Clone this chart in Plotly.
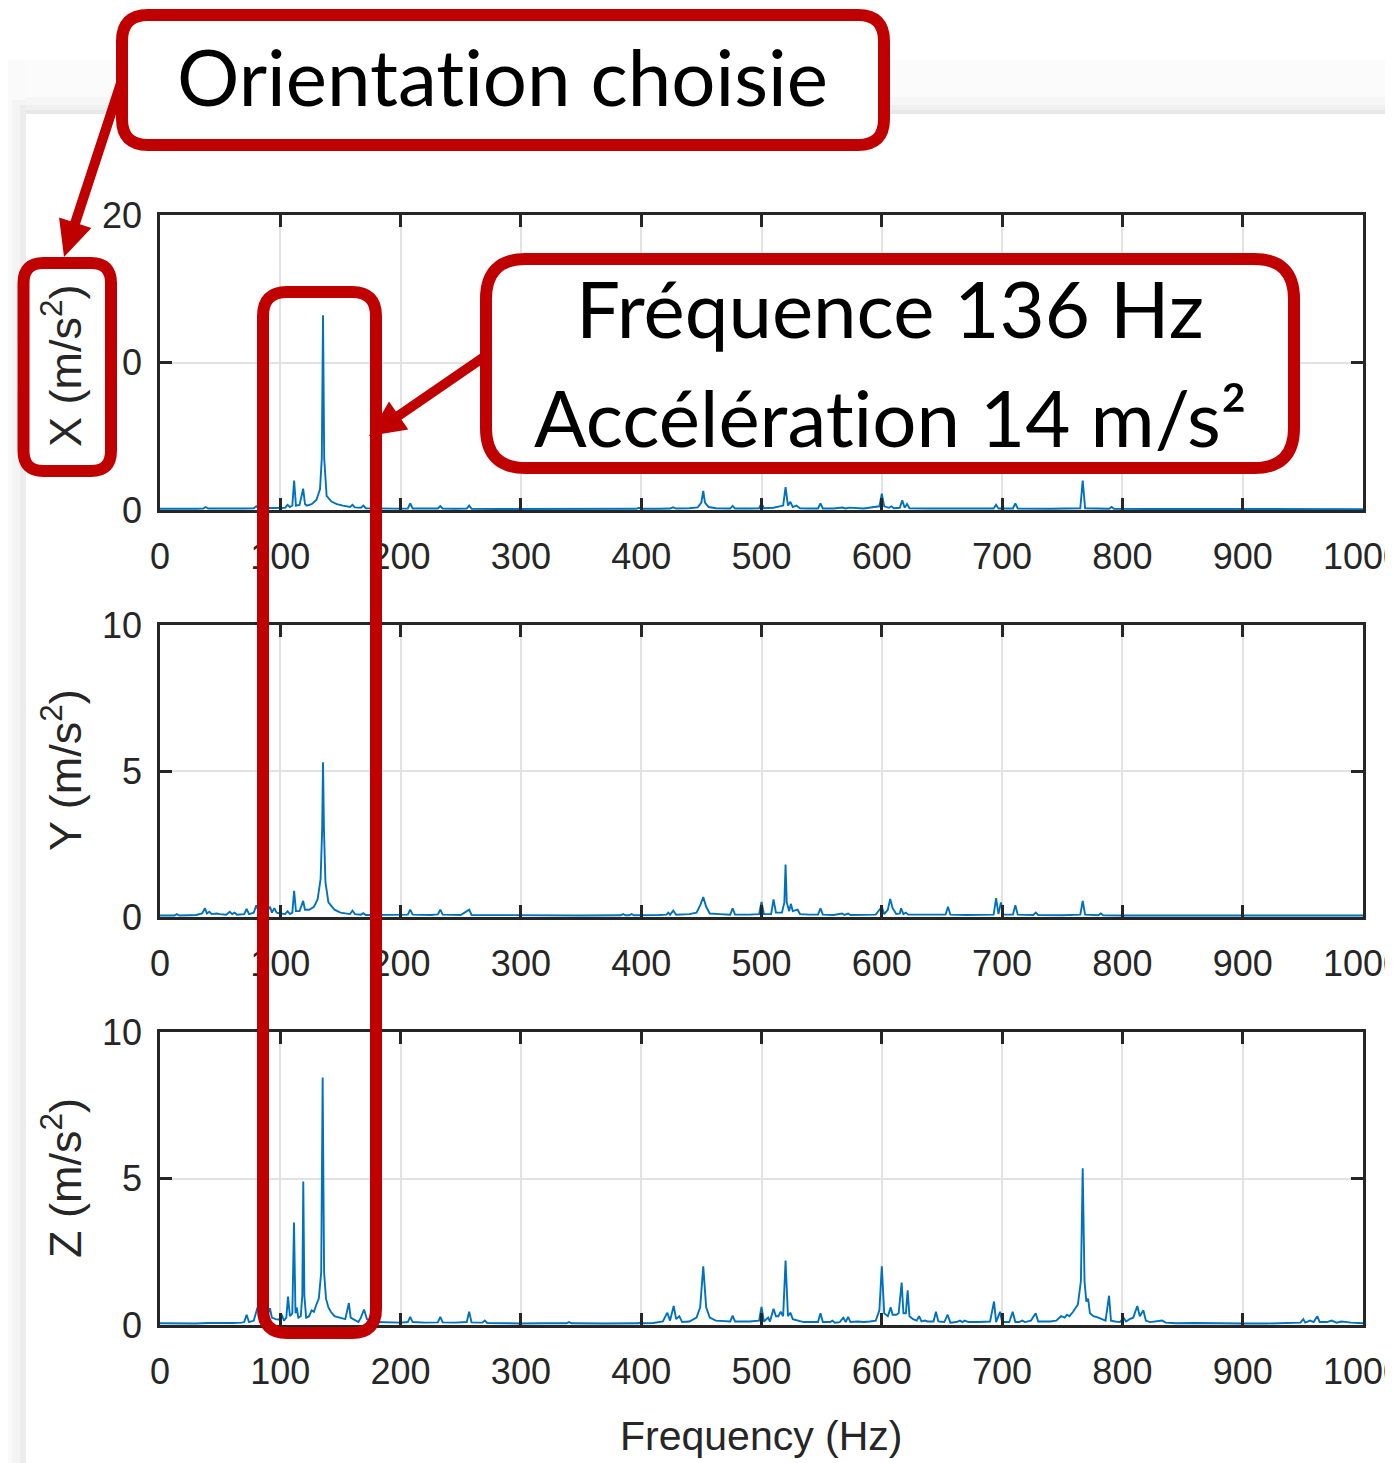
import plotly.graph_objects as go

# ---------------- data ----------------
FREQ_TICKS = [0, 100, 200, 300, 400, 500, 600, 700, 800, 900, 1000]
X_YTICKS = [0, 10, 20]
YZ_YTICKS = [0, 5, 10]

X_FREQ = [0, 10, 20, 30, 36, 38, 40, 50, 60, 70, 78, 80, 82, 90, 98, 104, 106, 108, 110, 111.5, 113, 116, 119,
          120.5, 122, 126, 130, 133, 134.5, 135.5, 136.5, 138.5, 142.5, 147, 152, 158, 160, 162, 167, 169, 171,
          180, 195, 206, 208, 210, 220, 231, 233, 235, 245, 255, 257, 259, 280, 320, 360, 396, 398, 400, 415,
          424, 426.5, 429, 440, 447, 450, 451.6, 453, 456, 462, 474, 476, 478, 490, 498, 500, 502, 510, 518,
          520, 522, 524, 526, 529, 532, 540, 547, 549, 551, 560, 567, 570, 573, 585, 598, 600, 602, 606, 608,
          610, 615, 617, 619, 621, 623, 640, 660, 680, 693, 695, 697, 709, 711, 713, 740, 765, 767, 769, 789,
          791, 793, 820, 900, 1000]
X_AMP = [0.08, 0.07, 0.09, 0.08, 0.1, 0.2, 0.1, 0.09, 0.1, 0.1, 0.12, 0.25, 0.12, 0.12, 0.15, 0.15, 0.35, 0.2,
         0.3, 2.0, 0.3, 0.35, 1.45, 0.4, 0.3, 0.4, 0.68, 1.4, 3.5, 13.2, 3.5, 0.95, 0.57, 0.4, 0.3, 0.2, 0.35,
         0.18, 0.15, 0.3, 0.12, 0.1, 0.09, 0.1, 0.45, 0.1, 0.09, 0.1, 0.27, 0.1, 0.08, 0.09, 0.3, 0.08, 0.07,
         0.06, 0.07, 0.08, 0.15, 0.08, 0.08, 0.1, 0.18, 0.1, 0.12, 0.18, 0.5, 1.3, 0.5, 0.2, 0.12, 0.1, 0.28,
         0.1, 0.1, 0.12, 0.45, 0.12, 0.15, 0.3, 1.55, 0.3, 0.55, 0.2, 0.3, 0.12, 0.1, 0.1, 0.45, 0.1, 0.1, 0.17,
         0.1, 0.16, 0.1, 0.25, 1.1, 0.25, 0.15, 0.25, 0.12, 0.15, 0.65, 0.15, 0.4, 0.12, 0.1, 0.09, 0.08, 0.1,
         0.35, 0.1, 0.1, 0.45, 0.1, 0.08, 0.12, 2.0, 0.12, 0.08, 0.2, 0.08, 0.07, 0.06, 0.06]

Y_FREQ = [0, 8, 12, 14, 16, 25, 30, 35, 37.4, 39, 41, 43, 47, 50, 55, 58, 60, 62, 64, 70, 72, 74, 78, 80, 82, 86,
          89, 91.5, 93, 95, 97, 100, 104, 106, 108, 110, 111.5, 113, 116, 119, 120.5, 124, 128, 131, 133.5,
          134.8, 135.5, 136.3, 137.5, 140, 145, 150, 155, 158, 160, 162, 167, 169, 171, 185, 206, 208, 210, 225,
          231, 233, 235, 250, 257, 259, 283, 285, 300, 350, 383, 385, 387, 390, 392, 394, 415, 421, 422.5, 424,
          426.7, 429, 440, 446, 449, 451.6, 454, 457, 465, 474, 476, 478, 490, 498, 500, 502, 508, 510, 512, 517,
          519, 520, 521, 523, 524.4, 526, 530, 532, 540, 547, 549, 551, 560, 567, 569, 572, 574, 585, 595, 600,
          602, 605, 607, 609, 612, 615, 616, 618, 620, 622, 640, 653, 655, 657, 670, 680, 693, 695, 697, 699,
          701, 709, 711, 713, 726, 728, 730, 750, 765, 767, 769, 780, 782, 784, 800, 850, 900, 950, 1000]
Y_AMP = [0.05, 0.06, 0.05, 0.1, 0.05, 0.06, 0.07, 0.12, 0.3, 0.12, 0.18, 0.1, 0.12, 0.1, 0.08, 0.18, 0.1, 0.15,
         0.08, 0.1, 0.28, 0.1, 0.15, 0.4, 0.2, 0.15, 0.2, 0.35, 0.15, 0.3, 0.15, 0.12, 0.1, 0.2, 0.1, 0.15, 0.9,
         0.2, 0.2, 0.55, 0.25, 0.25, 0.35, 0.6, 1.3, 3.0, 5.3, 3.0, 1.2, 0.5, 0.25, 0.15, 0.12, 0.1, 0.22, 0.1,
         0.08, 0.13, 0.07, 0.07, 0.08, 0.25, 0.08, 0.07, 0.09, 0.25, 0.08, 0.07, 0.25, 0.07, 0.06, 0.08, 0.05,
         0.05, 0.06, 0.1, 0.06, 0.06, 0.1, 0.06, 0.07, 0.08, 0.15, 0.08, 0.22, 0.08, 0.1, 0.15, 0.4, 0.68, 0.35,
         0.12, 0.1, 0.08, 0.3, 0.08, 0.08, 0.1, 0.52, 0.1, 0.1, 0.6, 0.15, 0.15, 0.5, 1.8, 0.5, 0.2, 0.45, 0.2,
         0.25, 0.1, 0.08, 0.08, 0.3, 0.08, 0.07, 0.12, 0.07, 0.12, 0.07, 0.08, 0.08, 0.35, 0.1, 0.25, 0.62, 0.3,
         0.1, 0.12, 0.3, 0.1, 0.15, 0.08, 0.08, 0.08, 0.35, 0.08, 0.07, 0.07, 0.08, 0.65, 0.1, 0.5, 0.08, 0.08,
         0.4, 0.08, 0.07, 0.15, 0.07, 0.06, 0.08, 0.55, 0.08, 0.06, 0.12, 0.06, 0.05, 0.05, 0.05, 0.05, 0.05]

Z_FREQ = [0, 10, 20, 30, 40, 50, 60, 68, 70, 72, 74, 78, 81, 84, 88, 91.4, 93, 96, 99, 101.3, 103, 105, 106.4,
          108, 110, 111.4, 112.6, 113.6, 115, 117, 118.3, 119.1, 120, 121.5, 124, 126, 128, 130, 132, 134,
          135.2, 136.4, 138, 140, 142, 145, 150, 154, 157, 158.5, 160.6, 163, 165, 167, 169.6, 172, 175, 180,
          190, 200, 206, 208, 210, 220, 231, 233, 235, 245, 255, 257, 259, 268, 270, 272, 290, 300, 320, 338,
          340, 342, 370, 398, 400, 402, 410, 418, 421.7, 424, 427, 429, 431.7, 434, 440, 443, 446, 449, 451.6,
          454, 457, 462, 470, 474, 476, 478, 490, 498, 500, 502, 505.5, 507, 510, 512, 514, 516, 518, 520, 522,
          524, 526, 530, 535, 545, 547, 549, 551, 557, 559, 561, 565, 568, 570, 572, 574, 580, 585, 590, 595,
          598, 600, 602, 605, 607.4, 609, 612, 614, 616.5, 618, 620, 621.5, 623, 626, 629, 631, 633, 636, 638,
          643, 645, 647, 652, 654.7, 657, 662, 665, 667, 669, 672, 680, 690, 693.3, 695, 698.3, 700, 706, 708.8,
          711, 714, 716.8, 719, 724, 727.9, 730, 740, 745, 749, 752, 754, 756, 759, 763, 765.5, 767, 768.5, 770,
          771.5, 773, 776, 780, 784, 786, 788.9, 790.5, 794, 798, 801, 803, 806, 809, 812.4, 814.5, 817.4, 819.5,
          823, 828, 833, 836, 845, 860, 880, 900, 920, 940, 948, 950.4, 952, 956, 959, 962, 964, 970, 974, 978,
          982, 987, 990, 1000]
Z_AMP = [0.06, 0.05, 0.06, 0.05, 0.07, 0.06, 0.07, 0.08, 0.1, 0.35, 0.1, 0.15, 0.6, 0.3, 0.2, 0.57, 0.25, 0.2,
         0.18, 0.35, 0.15, 0.25, 0.97, 0.3, 0.4, 3.5, 0.4, 0.6, 0.25, 0.3, 1.0, 4.9, 1.0, 0.25, 0.3, 0.5, 0.45,
         0.7, 0.9, 1.8, 8.45, 1.8, 0.9, 0.6, 0.45, 0.3, 0.25, 0.2, 0.75, 0.25, 0.2, 0.15, 0.1, 0.25, 0.53, 0.2,
         0.15, 0.1, 0.08, 0.08, 0.1, 0.28, 0.1, 0.08, 0.09, 0.28, 0.09, 0.08, 0.1, 0.45, 0.09, 0.08, 0.15, 0.07,
         0.06, 0.05, 0.06, 0.06, 0.1, 0.06, 0.05, 0.06, 0.1, 0.06, 0.07, 0.12, 0.42, 0.15, 0.65, 0.2, 0.3, 0.1,
         0.12, 0.18, 0.25, 0.6, 2.0, 0.6, 0.25, 0.15, 0.12, 0.12, 0.32, 0.12, 0.12, 0.15, 0.62, 0.12, 0.25, 0.12,
         0.55, 0.3, 0.3, 0.45, 0.3, 2.2, 0.3, 0.42, 0.2, 0.15, 0.1, 0.1, 0.1, 0.4, 0.1, 0.1, 0.15, 0.08, 0.1,
         0.25, 0.1, 0.28, 0.1, 0.12, 0.1, 0.12, 0.15, 0.5, 2.0, 0.4, 0.3, 0.6, 0.35, 0.35, 0.4, 1.45, 0.4, 0.4,
         1.18, 0.3, 0.2, 0.15, 0.3, 0.12, 0.15, 0.12, 0.12, 0.45, 0.12, 0.1, 0.35, 0.08, 0.1, 0.15, 0.1, 0.15,
         0.1, 0.1, 0.12, 0.8, 0.1, 0.45, 0.1, 0.1, 0.45, 0.1, 0.1, 0.15, 0.1, 0.15, 0.4, 0.12, 0.12, 0.15, 0.3,
         0.25, 0.35, 0.3, 0.45, 0.7, 1.5, 5.35, 1.5, 0.8, 0.9, 0.4, 0.3, 0.25, 0.2, 0.15, 1.0, 0.15, 0.12, 0.1,
         0.25, 0.12, 0.2, 0.25, 0.65, 0.3, 0.5, 0.15, 0.1, 0.12, 0.15, 0.08, 0.06, 0.07, 0.05, 0.05, 0.05, 0.06,
         0.08, 0.2, 0.08, 0.15, 0.1, 0.3, 0.1, 0.1, 0.15, 0.08, 0.12, 0.1, 0.08, 0.06]

# ---------------- layout helpers ----------------
W, H = 1393, 1463
OFF = 8  # the page body margin offsets the figure by 8 px
RED = "#C00000"
INK = "#262626"
BLUE = "#0072BD"
GRID = "#e2e2e2"


def px(x):
    return (x - OFF) / W


def py(y):
    return 1 - (y - OFF) / H


def rounded_rect(x0, y0, x1, y1, r):
    pts = [
        ("M", [(x0 + r, y0)]),
        ("L", [(x1 - r, y0)]), ("Q", [(x1, y0), (x1, y0 + r)]),
        ("L", [(x1, y1 - r)]), ("Q", [(x1, y1), (x1 - r, y1)]),
        ("L", [(x0 + r, y1)]), ("Q", [(x0, y1), (x0, y1 - r)]),
        ("L", [(x0, y0 + r)]), ("Q", [(x0, y0), (x0 + r, y0)]),
    ]
    s = ""
    for cmd, cs in pts:
        s += cmd + " " + " ".join(f"{px(a):.5f},{py(b):.5f}" for a, b in cs) + " "
    return s + "Z"


def arrow_shapes(start, tip, head_len=36, head_half=17, width=10):
    (sx, sy), (tx, ty) = start, tip
    dx, dy = tx - sx, ty - sy
    L = (dx * dx + dy * dy) ** 0.5
    ux, uy = dx / L, dy / L
    bx, by = tx - head_len * ux, ty - head_len * uy
    perp = (-uy, ux)
    p1 = (bx + head_half * perp[0], by + head_half * perp[1])
    p2 = (bx - head_half * perp[0], by - head_half * perp[1])
    line = dict(type="line", xref="paper", yref="paper", x0=px(sx), y0=py(sy), x1=px(bx + 2 * ux),
                y1=py(by + 2 * uy), line=dict(color=RED, width=width), layer="above")
    head = dict(type="path", xref="paper", yref="paper",
                path=f"M {px(tx):.5f},{py(ty):.5f} L {px(p1[0]):.5f},{py(p1[1]):.5f} "
                     f"L {px(p2[0]):.5f},{py(p2[1]):.5f} Z",
                fillcolor=RED, line=dict(width=0), layer="above")
    return [line, head]


# plot-area pixel boxes (screen pixels)
X0, X1 = 160, 1363
ROWS = [(215, 510), (625, 917), (1032, 1325)]

fig = go.Figure()
series = [(X_FREQ, X_AMP), (Y_FREQ, Y_AMP), (Z_FREQ, Z_AMP)]
for i, (f, a) in enumerate(series):
    sfx = "" if i == 0 else str(i + 1)
    fig.add_trace(go.Scatter(x=f, y=a, mode="lines", line=dict(color=BLUE, width=1.9),
                             xaxis="x" + sfx, yaxis="y" + sfx, showlegend=False, hoverinfo="skip"))

axis_common = dict(showline=True, linecolor=INK, linewidth=2.5, mirror="ticks", ticks="inside", ticklen=12,
                   tickwidth=2.5, tickcolor=INK, showgrid=True, gridcolor=GRID, gridwidth=1.5, zeroline=False,
                   automargin=False, ticklabeloverflow="allow",
                   tickfont=dict(family="Liberation Sans, Arial, sans-serif", size=36, color=INK))

layout = dict(template="none", width=W, height=H, autosize=False, margin=dict(l=0, r=0, t=0, b=0, pad=0),
              paper_bgcolor="white", plot_bgcolor="white", showlegend=False)
for i, (top, bot) in enumerate(ROWS):
    sfx = "" if i == 0 else str(i + 1)
    layout["xaxis" + sfx] = dict(axis_common, domain=[px(X0), px(X1)], range=[0, 1000], tickvals=FREQ_TICKS,
                                 anchor="y" + sfx, ticklabelstandoff=13)
    yt = X_YTICKS if i == 0 else YZ_YTICKS
    layout["yaxis" + sfx] = dict(axis_common, domain=[py(bot), py(top)], range=[0, yt[-1]], tickvals=yt,
                                 anchor="x" + sfx, ticklabelstandoff=8)
fig.update_layout(**layout)

shapes = []
# window-frame shading of the screenshot
for (x0, y0, x1, y1, c) in [(8, 60, 1401, 113, "#fbfbfb"), (8, 97, 1401, 113, "#f6f6f6"),
                            (8, 105, 1401, 113, "#f0f0f0"), (8, 110, 1401, 114, "#e8e8e8"),
                            (8, 60, 26, 1471, "#fafafa"), (12, 100, 26, 1471, "#f4f4f4"),
                            (20, 105, 26, 1471, "#ececec")]:
    shapes.append(dict(type="rect", xref="paper", yref="paper", x0=px(x0), x1=px(x1), y0=py(y1), y1=py(y0),
                       fillcolor=c, line=dict(width=0), layer="below"))

shapes += arrow_shapes((122, 80), (64, 257))
shapes += arrow_shapes((500, 346), (369, 436))

# white fills + red rounded boxes
shapes.append(dict(type="rect", xref="paper", yref="paper", x0=px(17), x1=px(122), y0=py(390), y1=py(340),
                   fillcolor="white", line=dict(width=0), layer="above"))
for (x0, y0, x1, y1, r, fill) in [(122, 15, 884, 145, 26, "white"), (486, 259, 1294, 468, 40, "white"),
                                  (23.5, 263, 111, 471, 20, "white"), (263, 292, 376, 1333, 24, None)]:
    shapes.append(dict(type="path", xref="paper", yref="paper", path=rounded_rect(x0, y0, x1, y1, r),
                       fillcolor=fill if fill else "rgba(0,0,0,0)", line=dict(color=RED, width=12),
                       layer="above"))
fig.update_layout(shapes=shapes)

ann = []
label_font = dict(family="Liberation Sans, Arial, sans-serif", size=45, color=INK)
for txt, yc in [("X (m/s<sup>2</sup>)", 366), ("Y (m/s<sup>2</sup>)", 770), ("Z (m/s<sup>2</sup>)", 1178)]:
    ann.append(dict(text=txt, x=px(62), y=py(yc), xref="paper", yref="paper", showarrow=False,
                    textangle=-90, xanchor="center", yanchor="middle", font=label_font))
ann.append(dict(text="Frequency (Hz)", x=px(761), y=py(1436), xref="paper", yref="paper", showarrow=False,
                xanchor="center", yanchor="middle", font=dict(label_font, size=41)))

callout_font = dict(family="Lato, 'Open Sans', sans-serif", size=78, color="black")
ann.append(dict(text="Orientat\u200cion choisie", x=px(503), y=py(76), xref="paper", yref="paper",
                showarrow=False, xanchor="center", yanchor="middle", font=callout_font))
ann.append(dict(text="Fréquence 136 Hz", x=px(890), y=py(308), xref="paper", yref="paper", showarrow=False,
                xanchor="center", yanchor="middle", font=callout_font))
ann.append(dict(text="Accélérat\u200cion 14 m/s²", x=px(890), y=py(417), xref="paper", yref="paper",
                showarrow=False, xanchor="center", yanchor="middle", font=callout_font))
fig.update_layout(annotations=ann)

fig.write_html("out.html")
